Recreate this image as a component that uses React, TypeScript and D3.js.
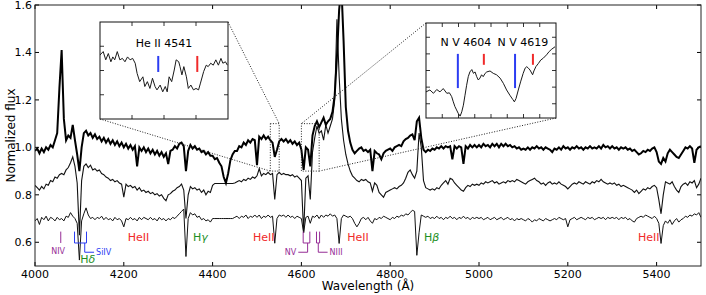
import React from 'react';
import * as d3 from 'd3';

// spectra are sampled every 5 Å from 4000 to 5500 Å
const wavelengths = d3.range(4000, 5501, 5);

const topFlux = [
  0.985, 0.995, 0.975, 0.995, 0.98, 1.0, 0.99, 1.01, 1.0, 1.03, 1.06, 1.25, 1.41, 1.12, 1.03, 1.05, 1.04, 1.095, 1.03, 0.97,
  0.9, 1.0, 1.06, 1.07, 1.05, 1.06, 1.04, 1.055, 1.035, 1.045, 1.025, 1.04, 1.02, 1.035, 1.015, 1.03, 1.01, 1.025, 1.005, 1.02,
  1.0, 1.015, 0.995, 1.01, 0.99, 1.005, 0.92, 1.0, 0.985, 1.0, 0.98, 0.995, 0.975, 0.99, 0.97, 0.985, 0.965, 0.98, 0.96, 0.975,
  0.93, 0.985, 0.99, 1.005, 0.995, 1.015, 1.02, 1.005, 0.9, 0.985, 1.01, 0.995, 1.005, 0.99, 0.995, 0.98, 0.985, 0.97, 0.98, 0.965,
  0.965, 0.95, 0.955, 0.935, 0.92, 0.875, 0.85, 0.89, 0.945, 0.97, 0.985, 0.985, 1.005, 1.0, 1.02, 1.01, 1.03, 1.02, 1.035, 1.03,
  0.925, 1.045, 1.035, 1.05, 1.035, 1.045, 1.03, 1.02, 0.96, 0.99, 1.025, 1.035, 1.025, 1.035, 1.02, 1.03, 1.015, 1.025, 1.01, 1.02,
  0.99, 0.905, 1.0, 0.99, 0.92, 1.05, 1.09, 1.11, 1.085, 1.105, 1.125, 1.095, 1.11, 1.12, 1.15, 1.22, 1.38, 1.58, 1.68, 1.45,
  1.17, 1.07, 1.02, 0.99, 0.975, 0.985, 0.995, 1.0, 0.985, 0.99, 0.98, 0.99, 0.9, 0.985, 0.975, 0.97, 0.95, 0.975, 0.985, 0.99,
  0.995, 0.985, 1.0, 1.005, 1.01, 1.005, 1.025, 1.035, 1.04, 1.05, 1.055, 1.03, 1.11, 1.125, 1.04, 0.99, 0.98, 0.99, 0.985, 0.995,
  0.99, 1.0, 0.995, 1.005, 0.995, 1.005, 1.0, 1.005, 0.95, 1.005, 0.995, 1.005, 1.0, 0.93, 1.005, 0.995, 1.01, 1.0, 1.01, 1.0,
  1.01, 1.0, 1.015, 1.005, 1.01, 1.0, 1.015, 1.005, 1.015, 1.0, 1.015, 1.005, 1.015, 1.005, 1.01, 1.0, 1.005, 0.995, 1.0, 0.99,
  0.995, 0.99, 1.0, 0.99, 1.0, 0.995, 1.005, 0.995, 1.0, 0.99, 1.0, 0.995, 0.99, 0.98, 0.995, 0.99, 1.0, 0.99, 1.005, 0.995,
  1.0, 0.99, 1.0, 0.995, 1.005, 0.995, 1.0, 0.99, 1.0, 0.995, 1.005, 0.995, 1.0, 0.995, 1.005, 0.995, 1.01, 1.0, 1.005, 0.995,
  1.005, 0.995, 1.0, 0.99, 1.0, 0.995, 1.0, 0.99, 0.995, 0.985, 0.99, 0.98, 0.97, 0.975, 0.985, 0.98, 0.99, 0.985, 0.995, 1.0,
  0.98, 0.94, 0.93, 0.955, 0.94, 0.975, 0.99, 0.98, 0.97, 0.96, 0.955, 0.97, 0.985, 1.0, 0.995, 1.005, 0.995, 0.935, 0.99, 1.0,
  1.005,
];

const midFlux = [
  0.84, 0.83, 0.82, 0.835, 0.825, 0.845, 0.84, 0.86, 0.855, 0.875, 0.87, 0.885, 0.89, 0.885, 0.905, 0.915, 0.935, 0.96, 0.92, 0.85,
  0.63, 0.86, 0.92, 0.93, 0.915, 0.925, 0.905, 0.91, 0.9, 0.905, 0.89, 0.885, 0.875, 0.87, 0.86, 0.865, 0.855, 0.86, 0.85, 0.845,
  0.79, 0.845, 0.835, 0.84, 0.83, 0.835, 0.82, 0.83, 0.815, 0.82, 0.81, 0.815, 0.805, 0.81, 0.8, 0.805, 0.795, 0.8, 0.785, 0.775,
  0.8, 0.805, 0.815, 0.82, 0.83, 0.835, 0.845, 0.82, 0.7, 0.8, 0.835, 0.825, 0.83, 0.82, 0.825, 0.81, 0.82, 0.8, 0.815, 0.81,
  0.84, 0.848, 0.848, 0.848, 0.848, 0.848, 0.848, 0.848, 0.848, 0.848, 0.85, 0.855, 0.86, 0.855, 0.865, 0.86, 0.87, 0.865, 0.875, 0.87,
  0.88, 0.91, 0.88, 0.89, 0.885, 0.895, 0.885, 0.89, 0.78, 0.885, 0.895, 0.885, 0.89, 0.885, 0.885, 0.88, 0.885, 0.875, 0.88, 0.87,
  0.86, 0.64, 0.87, 0.88, 0.78, 0.98, 1.04, 1.09, 1.06, 1.07, 1.03, 1.095, 1.06, 1.09, 1.12, 1.2, 1.54, 1.3, 1.12, 1.03,
  0.97, 0.93, 0.9, 0.88, 0.87, 0.86, 0.855, 0.865, 0.86, 0.865, 0.855, 0.85, 0.815, 0.85, 0.84, 0.81, 0.8, 0.79, 0.81, 0.815,
  0.82, 0.825, 0.83, 0.825, 0.835, 0.84, 0.85, 0.87, 0.895, 0.905, 0.885, 0.87, 0.9, 1.06, 1.0, 0.86, 0.83, 0.825, 0.82, 0.825,
  0.82, 0.83, 0.825, 0.84, 0.85, 0.86, 0.845, 0.87, 0.865, 0.85, 0.84, 0.83, 0.82, 0.815, 0.83, 0.84, 0.835, 0.845, 0.84, 0.845,
  0.84, 0.85, 0.845, 0.855, 0.85, 0.855, 0.86, 0.85, 0.855, 0.845, 0.85, 0.855, 0.85, 0.86, 0.855, 0.86, 0.855, 0.865, 0.86, 0.855,
  0.85, 0.845, 0.855, 0.86, 0.865, 0.87, 0.86, 0.855, 0.845, 0.85, 0.84, 0.85, 0.855, 0.845, 0.85, 0.845, 0.855, 0.845, 0.84, 0.835,
  0.825, 0.835, 0.845, 0.85, 0.845, 0.855, 0.85, 0.845, 0.855, 0.85, 0.845, 0.855, 0.85, 0.86, 0.855, 0.865, 0.855, 0.85, 0.845, 0.85,
  0.845, 0.85, 0.84, 0.845, 0.835, 0.84, 0.835, 0.83, 0.825, 0.82, 0.81, 0.82, 0.805, 0.815, 0.825, 0.82, 0.83, 0.825, 0.835, 0.84,
  0.83, 0.78, 0.72, 0.8, 0.855, 0.85, 0.845, 0.855, 0.835, 0.82, 0.81, 0.835, 0.845, 0.85, 0.84, 0.855, 0.85, 0.86, 0.83, 0.845,
  0.87,
];

const lowFlux = [
  0.69, 0.7, 0.675, 0.705, 0.695, 0.71, 0.69, 0.705, 0.7, 0.69, 0.705, 0.695, 0.7, 0.69, 0.71, 0.705, 0.725, 0.71, 0.7, 0.68,
  0.525, 0.69, 0.72, 0.745, 0.715, 0.7, 0.705, 0.695, 0.705, 0.7, 0.71, 0.695, 0.705, 0.695, 0.7, 0.69, 0.705, 0.695, 0.7, 0.69,
  0.665, 0.7, 0.695, 0.705, 0.695, 0.7, 0.69, 0.705, 0.695, 0.705, 0.7, 0.695, 0.705, 0.695, 0.7, 0.69, 0.705, 0.695, 0.7, 0.69,
  0.7, 0.695, 0.705, 0.7, 0.71, 0.72, 0.73, 0.74, 0.54, 0.7, 0.725, 0.715, 0.72, 0.705, 0.71, 0.695, 0.7, 0.69, 0.695, 0.685,
  0.7, 0.7, 0.7, 0.7, 0.7, 0.7, 0.7, 0.7, 0.7, 0.7, 0.705, 0.71, 0.7, 0.71, 0.705, 0.715, 0.7, 0.71, 0.705, 0.715,
  0.705, 0.715, 0.7, 0.71, 0.705, 0.715, 0.705, 0.71, 0.596, 0.7, 0.715, 0.71, 0.715, 0.705, 0.715, 0.705, 0.71, 0.7, 0.71, 0.705,
  0.7, 0.64, 0.705, 0.71, 0.68, 0.71, 0.705, 0.715, 0.7, 0.715, 0.705, 0.715, 0.71, 0.72, 0.71, 0.715, 0.7, 0.595, 0.7, 0.715,
  0.71, 0.705, 0.71, 0.7, 0.68, 0.665, 0.68, 0.7, 0.705, 0.695, 0.705, 0.69, 0.68, 0.7, 0.695, 0.705, 0.7, 0.71, 0.705, 0.7,
  0.695, 0.705, 0.7, 0.71, 0.705, 0.715, 0.71, 0.72, 0.715, 0.725, 0.735, 0.73, 0.545, 0.64, 0.715, 0.71, 0.705, 0.71, 0.7, 0.705,
  0.7, 0.71, 0.7, 0.705, 0.695, 0.705, 0.7, 0.71, 0.7, 0.705, 0.695, 0.705, 0.7, 0.71, 0.7, 0.705, 0.695, 0.705, 0.7, 0.705,
  0.7, 0.705, 0.695, 0.7, 0.705, 0.695, 0.7, 0.705, 0.695, 0.7, 0.705, 0.695, 0.7, 0.705, 0.695, 0.7, 0.69, 0.7, 0.695, 0.7,
  0.695, 0.69, 0.7, 0.695, 0.685, 0.695, 0.69, 0.7, 0.695, 0.69, 0.7, 0.695, 0.69, 0.695, 0.7, 0.695, 0.705, 0.7, 0.695, 0.7,
  0.665, 0.695, 0.7, 0.705, 0.695, 0.7, 0.705, 0.7, 0.695, 0.705, 0.7, 0.705, 0.695, 0.7, 0.705, 0.7, 0.705, 0.695, 0.705, 0.7,
  0.705, 0.7, 0.705, 0.695, 0.705, 0.7, 0.705, 0.695, 0.7, 0.69, 0.685, 0.7, 0.705, 0.71, 0.705, 0.715, 0.71, 0.705, 0.7, 0.71,
  0.7, 0.68, 0.595, 0.67, 0.69, 0.68, 0.695, 0.675, 0.69, 0.7, 0.685, 0.695, 0.7, 0.71, 0.705, 0.715, 0.71, 0.72, 0.715, 0.725,
  0.705,
];

const xTicks = [4000, 4200, 4400, 4600, 4800, 5000, 5200, 5400];
const yTicks = [0.6, 0.8, 1.0, 1.2, 1.4, 1.6];

// zoom panel on He II 4541
const zoomAWave = [
  4530.0, 4530.5, 4530.9, 4531.3, 4531.7, 4532.0, 4532.3, 4532.7, 4533.1, 4533.5, 4533.9, 4534.3, 4534.7, 4535.1,
  4535.5, 4535.8, 4536.2, 4536.7, 4537.0, 4537.4, 4537.8, 4538.2, 4538.6, 4538.9, 4539.4, 4539.8, 4540.2, 4540.5,
  4540.8, 4541.2, 4541.6, 4541.9, 4542.3, 4542.5, 4542.8, 4543.1, 4543.5, 4543.8, 4544.2, 4544.6, 4545.0, 4545.4,
  4545.7, 4546.2, 4546.6, 4546.9, 4547.3, 4547.7, 4548.1, 4548.5, 4548.9, 4549.2, 4549.6, 4549.9,
];
const zoomAFlux = [
  1.032, 1.039, 1.022, 1.035, 1.018, 1.028, 1.022, 1.039, 1.022, 1.025, 1.018, 1.028, 1.022, 1.025,
  1.015, 0.994, 0.977, 0.987, 0.967, 0.977, 0.963, 0.984, 0.967, 0.96, 0.97, 0.956, 0.967, 0.956,
  0.987, 0.977, 1.001, 1.022, 1.018, 1.008, 0.991, 1.008, 0.987, 0.963, 0.97, 0.96, 0.963, 0.96,
  0.974, 0.998, 1.011, 1.008, 1.015, 1.011, 1.022, 1.011, 1.025, 1.015, 1.018, 1.011,
];
const zoomAXTicks = [4535, 4540, 4545];
const zoomAYTicks = [0.95, 1.0, 1.05];

// zoom panel on N V 4604 / 4619
const zoomBWave = [
  4600.0, 4601.2, 4602.3, 4603.3, 4604.3, 4605.3, 4606.4, 4607.2, 4607.9, 4608.4, 4608.9, 4609.4, 4609.9, 4610.5,
  4611.0, 4611.5, 4612.0, 4612.5, 4613.0, 4613.5, 4614.1, 4614.6, 4615.1, 4615.6, 4616.1, 4616.6, 4617.1, 4617.6,
  4618.2, 4618.7, 4619.7, 4620.7, 4621.7, 4622.8, 4623.8, 4624.8, 4625.8, 4626.7, 4627.2, 4627.7, 4628.4, 4629.1,
  4629.9, 4630.5, 4631.0, 4631.5, 4632.0, 4632.8, 4633.2, 4633.8, 4634.6, 4635.3, 4636.1, 4637.1, 4637.9, 4638.7, 4639.7,
];
const zoomBFlux = [
  0.955, 0.959, 0.952, 0.96, 0.955, 0.962, 0.952, 0.953, 0.945, 0.934, 0.924, 0.917, 0.91, 0.904,
  0.913, 0.927, 0.948, 0.969, 0.987, 0.997, 1.002, 0.994, 0.997, 0.987, 0.98, 0.984, 0.991, 0.987,
  0.994, 0.997, 0.999, 0.994, 0.991, 0.984, 0.973, 0.959, 0.948, 0.939, 0.934, 0.941, 0.959, 0.976,
  0.994, 1.005, 1.008, 1.005, 1.001, 0.991, 0.999, 1.008, 1.015, 1.022, 1.026, 1.033, 1.04, 1.045, 1.05,
];
const zoomBXTicks = [4605, 4610, 4615, 4620, 4625, 4630, 4635];
const zoomBYTicks = [0.93, 0.965, 1.0, 1.035, 1.07];

const BLUE = '#2b3cf2';
const RED = '#f02a2a';
const GREEN = '#1f8f1f';
const PURPLE = '#962d96';

const zoomAMarks = [
  { wave: 4539.1, lo: 0.997, hi: 1.03, color: BLUE },
  { wave: 4545.2, lo: 0.997, hi: 1.03, color: RED },
];
const zoomBMarks = [
  { wave: 4609.8, lo: 0.963, hi: 1.035, color: BLUE },
  { wave: 4617.8, lo: 1.012, hi: 1.035, color: RED },
  { wave: 4627.4, lo: 0.963, hi: 1.035, color: BLUE },
  { wave: 4632.9, lo: 1.012, hi: 1.035, color: RED },
];
const zoomATitles = [{ text: 'He II 4541', wave: 4540, flux: 1.048 }];
const zoomBTitles = [
  { text: 'N V 4604', wave: 4612.3, flux: 1.052 },
  { text: 'N V 4619', wave: 4629.8, flux: 1.052 },
];

// line identifications on the main panel
const heLabels = [
  { text: 'HeII', wave: 4209, flux: 0.606 },
  { text: 'HeII', wave: 4491, flux: 0.606 },
  { text: 'HeII', wave: 4703, flux: 0.606 },
  { text: 'HeII', wave: 5358, flux: 0.606 },
];
const hLabels = [
  { greek: 'δ', wave: 4102, flux: 0.511 },
  { greek: 'γ', wave: 4356, flux: 0.606 },
  { greek: 'β', wave: 4876, flux: 0.606 },
];
const brackets = [
  { name: 'SiIV', lines: [4089, 4116], stem: 4112, arm: 4133, color: BLUE },
  { name: 'NV', lines: [4604, 4619], stem: 4614, arm: 4593, color: PURPLE },
  { name: 'NIII', lines: [4634, 4641], stem: 4638, arm: 4659, color: PURPLE },
];
const nivLine = { name: 'NIV', wave: 4058, labelWave: 4052 };
const TICK_TOP = 0.645, BAR = 0.597, STEM_BOT = 0.558;

const FONT = 'DejaVu Sans';

type Panel = {
  box: [number, number, number, number];
  xDom: [number, number];
  yDom: [number, number];
};

function Inset({ panel, wave, flux, xt, yt, marks, titles, id }: any) {
  const [x0, y0, x1, y1] = panel.box;
  const sx = d3.scaleLinear().domain(panel.xDom).range([x0, x1]);
  const sy = d3.scaleLinear().domain(panel.yDom).range([y1, y0]);
  const path = d3.line<number>().x((_, i) => sx(wave[i])).y(d => sy(d))(flux) || '';
  return (
    <g>
      <clipPath id={id}><rect x={x0} y={y0} width={x1 - x0} height={y1 - y0} /></clipPath>
      <rect x={x0} y={y0} width={x1 - x0} height={y1 - y0} fill="#fff" />
      <path d={path} fill="none" stroke="#1a1a1a" strokeWidth={1} clipPath={`url(#${id})`} />
      {marks.map((m: any, i: number) => (
        <line key={i} x1={sx(m.wave)} x2={sx(m.wave)} y1={sy(m.lo)} y2={sy(m.hi)} stroke={m.color} strokeWidth={2} />
      ))}
      {titles.map((t: any, i: number) => (
        <text key={i} x={sx(t.wave)} y={sy(t.flux)} textAnchor="middle" fontSize={11} fontFamily={FONT}>{t.text}</text>
      ))}
      {xt.map((v: number) => (
        <g key={'x' + v} stroke="#000" strokeWidth={0.8}>
          <line x1={sx(v)} x2={sx(v)} y1={y1} y2={y1 - 4} />
          <line x1={sx(v)} x2={sx(v)} y1={y0} y2={y0 + 4} />
        </g>
      ))}
      {yt.map((v: number) => (
        <g key={'y' + v} stroke="#000" strokeWidth={0.8}>
          <line x1={x0} x2={x0 + 4} y1={sy(v)} y2={sy(v)} />
          <line x1={x1} x2={x1 - 4} y1={sy(v)} y2={sy(v)} />
        </g>
      ))}
      <rect x={x0} y={y0} width={x1 - x0} height={y1 - y0} fill="none" stroke="#111" strokeWidth={1} />
    </g>
  );
}

export default function App() {
  const left = 35, right = 701, top = 5, bottom = 266;
  const x = d3.scaleLinear().domain([4000, 5500]).range([left, right]);
  const y = d3.scaleLinear().domain([0.5, 1.6]).range([bottom, top]);
  const spec = (flux: number[]) =>
    d3.line<number>().x((_, i) => x(wavelengths[i])).y(d => y(d))(flux.slice(0, wavelengths.length)) || '';

  const panelA: Panel = { box: [100, 22, 228, 119], xDom: [4530, 4550], yDom: [0.9, 1.1] };
  const panelB: Panel = { box: [426, 23, 556, 118], xDom: [4600, 4640], yDom: [0.9, 1.1] };

  // the main-panel rectangles that the insets magnify
  const rectA = { x0: x(4530), x1: x(4550), y0: y(1.1), y1: y(0.9) };
  const rectB = { x0: x(4600), x1: x(4640), y0: y(1.1), y1: y(0.9) };
  const dotted = { stroke: '#222', strokeWidth: 1, strokeDasharray: '1 1.6', fill: 'none' };

  return (
    <svg width={706} height={295} style={{ position: 'absolute', left: 0, top: 0, background: '#fff' }} fontFamily={FONT}>
      <defs>
        <clipPath id="plot"><rect x={left} y={top} width={right - left} height={bottom - top} /></clipPath>
      </defs>
      <g clipPath="url(#plot)">
        <path d={spec(lowFlux)} fill="none" stroke="#111" strokeWidth={1} />
        <path d={spec(midFlux)} fill="none" stroke="#111" strokeWidth={1.1} />
        <path d={spec(topFlux)} fill="none" stroke="#000" strokeWidth={2} />
      </g>

      {/* line identifications */}
      {heLabels.map((d, i) => (
        <text key={'he' + i} x={x(d.wave)} y={y(d.flux)} fill={RED} fontSize={11}>{d.text}</text>
      ))}
      {hLabels.map((d, i) => (
        <text key={'h' + i} x={x(d.wave)} y={y(d.flux)} fill={GREEN} fontSize={11}>
          H<tspan fontStyle="italic">{d.greek}</tspan>
        </text>
      ))}
      <line x1={x(nivLine.wave)} x2={x(nivLine.wave)} y1={y(TICK_TOP)} y2={y(BAR)} stroke={PURPLE} strokeWidth={1} />
      <text x={x(nivLine.labelWave)} y={y(0.549)} textAnchor="middle" fill={PURPLE} fontSize={8}>{nivLine.name}</text>
      {brackets.map(b => {
        const pts: [number, number][] = [
          [x(b.lines[0]), y(TICK_TOP)], [x(b.lines[0]), y(BAR)], [x(b.lines[1]), y(BAR)], [x(b.lines[1]), y(TICK_TOP)],
        ];
        const stem: [number, number][] = [[x(b.stem), y(BAR)], [x(b.stem), y(STEM_BOT)], [x(b.arm), y(STEM_BOT)]];
        const toRight = b.arm > b.stem;
        return (
          <g key={b.name} stroke={b.color} strokeWidth={1} fill="none">
            <path d={d3.line()(pts) || ''} />
            <path d={d3.line()(stem) || ''} />
            <text x={x(b.arm) + (toRight ? 2 : -2)} y={y(STEM_BOT)} dy="0.3em" stroke="none" fill={b.color}
              fontSize={8} textAnchor={toRight ? 'start' : 'end'}>{b.name}</text>
          </g>
        );
      })}

      {/* zoom markers */}
      <rect x={rectA.x0} y={rectA.y0} width={rectA.x1 - rectA.x0} height={rectA.y1 - rectA.y0} {...dotted} />
      <rect x={rectB.x0} y={rectB.y0} width={rectB.x1 - rectB.x0} height={rectB.y1 - rectB.y0} {...dotted} />
      <line x1={panelA.box[2]} y1={panelA.box[1]} x2={rectA.x1} y2={rectA.y0} {...dotted} />
      <line x1={panelA.box[0]} y1={panelA.box[3]} x2={rectA.x0} y2={rectA.y1} {...dotted} />
      <line x1={panelB.box[0]} y1={panelB.box[1]} x2={rectB.x0} y2={rectB.y0} {...dotted} />
      <line x1={panelB.box[2]} y1={panelB.box[3]} x2={rectB.x1} y2={rectB.y1} {...dotted} />

      <Inset id="za" panel={panelA} wave={zoomAWave} flux={zoomAFlux} xt={zoomAXTicks} yt={zoomAYTicks}
        marks={zoomAMarks} titles={zoomATitles} />
      <Inset id="zb" panel={panelB} wave={zoomBWave} flux={zoomBFlux} xt={zoomBXTicks} yt={zoomBYTicks}
        marks={zoomBMarks} titles={zoomBTitles} />

      {/* axes */}
      {xTicks.map(v => (
        <g key={'xt' + v}>
          <line x1={x(v)} x2={x(v)} y1={bottom} y2={bottom - 4} stroke="#000" />
          <line x1={x(v)} x2={x(v)} y1={top} y2={top + 4} stroke="#000" />
          <text x={x(v)} y={bottom + 11.5} textAnchor="middle" fontSize={11}>{v}</text>
        </g>
      ))}
      {yTicks.map(v => (
        <g key={'yt' + v}>
          <line x1={left} x2={left + 4} y1={y(v)} y2={y(v)} stroke="#000" />
          <line x1={right} x2={right - 4} y1={y(v)} y2={y(v)} stroke="#000" />
          <text x={left - 3} y={y(v)} dy="0.35em" textAnchor="end" fontSize={11}>{d3.format('.1f')(v)}</text>
        </g>
      ))}
      <rect x={left} y={top} width={right - left} height={bottom - top} fill="none" stroke="#222" strokeWidth={1} />
      <text x={(left + right) / 2} y={290} textAnchor="middle" fontSize={12}>Wavelength (Å)</text>
      <text transform={`translate(15,${(top + bottom) / 2}) rotate(-90)`} textAnchor="middle" fontSize={12}>Normalized flux</text>
    </svg>
  );
}
